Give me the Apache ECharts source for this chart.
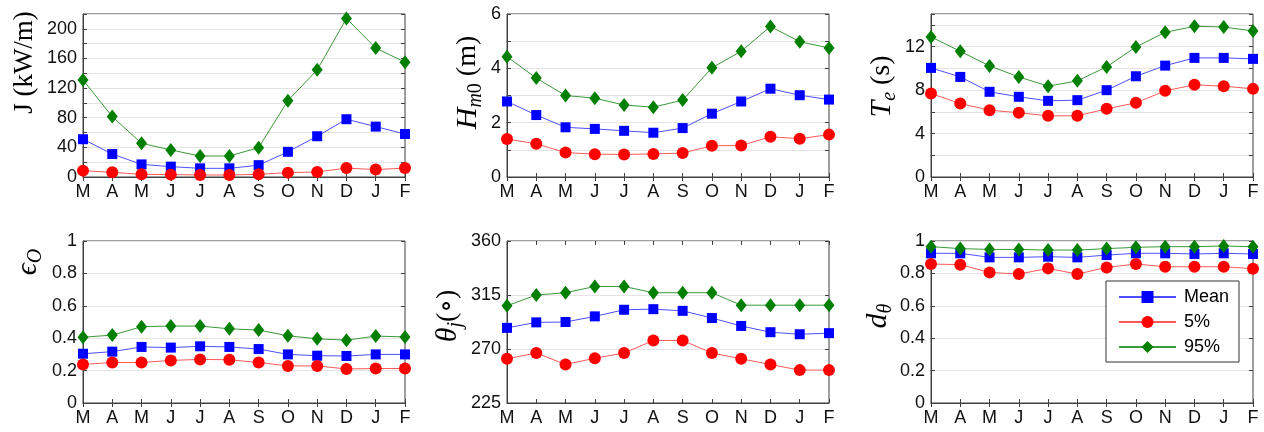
<!DOCTYPE html>
<html>
<head>
<meta charset="utf-8">
<script src="https://cdn.jsdelivr.net/npm/echarts@6/dist/echarts.min.js"></script>
<style>html,body{margin:0;padding:0;background:#fff}#c{width:1264px;height:432px}</style>
</head>
<body>
<div id="c"></div>
<script>
const months = ['M','A','M','J','J','A','S','O','N','D','J','F'];
const seriesNames = ['Mean','5%','95%'];

const jMean = [51,31,17,14,11.7,11.7,16,34,55,78,68,58];
const j5    = [8.6,6.3,3.6,3.2,2.7,2.7,3.6,5.9,6.8,12,10,12];
const j95   = [131,81.5,45.5,36.5,28.4,28.4,39.6,103,144.6,214,174,155];

const hMean = [2.78,2.28,1.83,1.77,1.70,1.63,1.80,2.33,2.78,3.25,3.01,2.85];
const h5    = [1.40,1.22,0.90,0.84,0.83,0.85,0.88,1.15,1.16,1.48,1.41,1.56];
const h95   = [4.43,3.64,3.00,2.90,2.65,2.57,2.83,4.02,4.63,5.54,4.98,4.75];

const teMean = [10.04,9.21,7.84,7.38,7.01,7.07,7.99,9.27,10.25,10.96,10.96,10.87];
const te5    = [7.68,6.76,6.15,5.91,5.63,5.63,6.27,6.83,7.93,8.48,8.36,8.11];
const te95   = [12.89,11.57,10.22,9.21,8.36,8.85,10.13,11.97,13.31,13.87,13.80,13.44];

const epsMean = [0.304,0.317,0.346,0.342,0.350,0.346,0.333,0.300,0.292,0.290,0.300,0.300];
const eps5    = [0.238,0.250,0.250,0.263,0.269,0.267,0.250,0.229,0.229,0.210,0.213,0.213];
const eps95   = [0.406,0.419,0.471,0.475,0.475,0.458,0.450,0.415,0.396,0.388,0.413,0.408];

const thMean = [287.6,292.2,292.5,297.2,302.7,303.2,301.8,295.8,289.2,284.0,282.3,283.2];
const th5    = [261.8,266.7,257.1,262.3,266.7,277.1,277.1,266.7,261.8,257.1,252.4,252.4];
const th95   = [306.0,315.0,316.9,322.1,322.1,316.9,316.9,316.9,306.5,306.5,306.5,306.5];

const dMean = [0.924,0.924,0.899,0.899,0.903,0.899,0.913,0.924,0.924,0.920,0.924,0.920];
const d5    = [0.858,0.854,0.806,0.796,0.831,0.796,0.837,0.858,0.841,0.841,0.841,0.829];
const d95   = [0.965,0.953,0.948,0.948,0.944,0.944,0.953,0.961,0.965,0.965,0.969,0.965];

// y-axis settings: [min, max, grid interval, label every]
const yScales = [
  [0, 220, 20, 40],
  [0, 6, 1, 2],
  [0, 15, 2, 4],
  [0, 1, 0.2, 0.2],
  [225, 360, 45, 45],
  [0, 1, 0.2, 0.2]
];
const yNames = [
  '{r|J (kW/m)}',
  '{i|H}{si|m}{s|0}{r| (m)}',
  '{i|T}{si|e}{r| (s)}',
  '{i|ϵ}{si|O}',
  '{i|θ}{si|j}{r|(∘)}',
  '{i|d}{si|θ}'
];
const panelData = [
  [jMean, j5, j95],
  [hMean, h5, h95],
  [teMean, te5, te95],
  [epsMean, eps5, eps95],
  [thMean, th5, th95],
  [dMean, d5, d95]
];

// layout
const lefts = [83, 507, 931];
const tops = [14, 241];
const heights = [163, 162];
const plotW = 322;
const nameGaps = [40, 21, 31, 37, 41, 35];
const nameShift = [66, 26, 18, 120, 12, 12];

const axisColor = '#404040';
const serif = '"Liberation Serif","DejaVu Serif",serif';
const sans = '"Liberation Sans",Arial,sans-serif';

const styles = [
  {symbol: 'rect', size: 10, color: '#0000ff', line: '#4f4fff'},
  {symbol: 'circle', size: 12, color: '#ff0000', line: '#ff5a5a'},
  {symbol: 'diamond', size: [11, 14], color: '#007f00', line: '#3a9a3a'}
];

const grids = [], xAxes = [], yAxes = [], series = [];
for (let p = 0; p < 6; p++) {
  const row = Math.floor(p / 3), col = p % 3;
  grids.push({
    left: lefts[col], top: tops[row], width: plotW, height: heights[row],
    show: true, borderColor: axisColor, borderWidth: 1, backgroundColor: 'transparent',
    containLabel: false, outerBoundsMode: 'none'
  });
  const [mn, mx, iv, every] = yScales[p];
  xAxes.push({
    type: 'category', gridIndex: p, data: months, boundaryGap: false,
    axisLine: {show: true, lineStyle: {color: axisColor, width: 1}},
    axisTick: {show: true, inside: true, length: 4, alignWithLabel: true, lineStyle: {color: axisColor}},
    axisLabel: {show: true, interval: 0, color: '#111', fontSize: 18, fontFamily: sans, margin: 6},
    splitLine: {show: false}
  });
  xAxes.push({
    type: 'category', gridIndex: p, data: months, boundaryGap: false, position: 'top',
    axisLine: {show: false},
    axisTick: {show: true, inside: true, length: 4, lineStyle: {color: axisColor}},
    axisLabel: {show: false}, splitLine: {show: false}
  });
  yAxes.push({
    type: 'value', gridIndex: p, min: mn, max: mx, interval: iv,
    name: yNames[p], nameLocation: 'middle', nameGap: nameGaps[p], nameRotate: 90,
    nameTextStyle: {
      padding: [0, 0, 0, nameShift[p]],
      rich: {
        r: {fontFamily: serif, fontSize: p === 0 ? 27 : 28, lineHeight: 36, color: '#000'},
        i: {fontFamily: serif, fontSize: 30, lineHeight: 36, fontStyle: 'italic', color: '#000'},
        si: {fontFamily: serif, fontSize: 20, lineHeight: 20, fontStyle: 'italic', verticalAlign: 'bottom', color: '#000'},
        s: {fontFamily: serif, fontSize: 20, lineHeight: 20, verticalAlign: 'bottom', color: '#000'}
      }
    },
    axisLine: {show: true, lineStyle: {color: axisColor, width: 1}},
    axisTick: {show: true, inside: true, length: 4, lineStyle: {color: axisColor}},
    axisLabel: {
      show: true, color: '#111', fontSize: 18, fontFamily: sans, margin: 6,
      showMinLabel: true, showMaxLabel: true,
      formatter: function (v) {
        const q = v / every;
        if (Math.abs(q - Math.round(q)) < 1e-6) return String(+v.toFixed(6));
        return '';
      }
    },
    splitLine: {show: true, lineStyle: {color: '#e4e4e4', width: 1}}
  });
  yAxes.push({
    type: 'value', gridIndex: p, min: mn, max: mx, interval: iv, position: 'right',
    axisLine: {show: false},
    axisTick: {show: true, inside: true, length: 4, lineStyle: {color: axisColor}},
    axisLabel: {show: false}, splitLine: {show: false}
  });
  for (let s = 0; s < 3; s++) {
    const st = styles[s];
    series.push({
      type: 'line', name: seriesNames[s],
      xAxisIndex: 2 * p, yAxisIndex: 2 * p,
      data: panelData[p][s],
      symbol: st.symbol, symbolSize: st.size, showAllSymbol: true,
      itemStyle: {color: st.color, borderWidth: 0},
      lineStyle: {color: st.line, width: 1},
      emphasis: {disabled: true},
      z: 3 + s
    });
  }
}

const chart = echarts.init(document.getElementById('c'), null, {renderer: 'canvas'});
chart.setOption({
  animation: false,
  backgroundColor: '#fff',
  grid: grids,
  xAxis: xAxes,
  yAxis: yAxes,
  legend: {
    data: seriesNames,
    orient: 'vertical',
    left: 1106, top: 281,
    itemWidth: 57, itemHeight: 15, itemGap: 7,
    padding: [7, 10, 6, 12],
    backgroundColor: '#fff',
    borderColor: '#333', borderWidth: 1, borderRadius: 0,
    selectedMode: false,
    textStyle: {fontSize: 18, fontFamily: sans, color: '#000', padding: [0, 0, 0, 3]}
  },
  series: series
});
</script>
</body>
</html>
